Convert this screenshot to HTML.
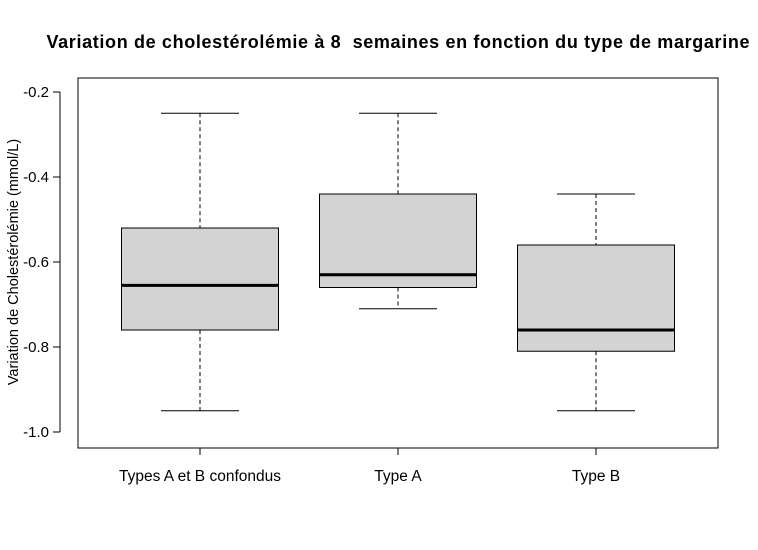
<!DOCTYPE html>
<html><head><meta charset="utf-8"><style>
body{margin:0;background:#fff}
text{font-family:"Liberation Sans",Arial,sans-serif}
</style></head><body>
<svg id="c" width="758" height="545" viewBox="0 0 758 545" xmlns="http://www.w3.org/2000/svg">
<rect width="758" height="545" fill="#fff"/>
<text x="398" y="48" text-anchor="middle" font-size="18" font-weight="bold" style="white-space:pre" xml:space="preserve" textLength="703">Variation de cholestérolémie à 8  semaines en fonction du type de margarine</text>
<text transform="translate(18,262) rotate(-90)" text-anchor="middle" font-size="14.5">Variation de Cholestérolémie (mmol/L)</text>
<rect x="78" y="78" width="640" height="370" fill="none" stroke="#000"/>
<g id="g"></g>
</svg>
<script>
const categories=["Types A et B confondus","Type A","Type B"];
const whiskerHigh=[-0.25,-0.25,-0.44];
const q3=[-0.52,-0.44,-0.56];
const medians=[-0.655,-0.63,-0.76];
const q1=[-0.76,-0.66,-0.81];
const whiskerLow=[-0.95,-0.71,-0.95];
const yTicks=[-0.2,-0.4,-0.6,-0.8,-1.0];
const yTickLabels=["-0.2","-0.4","-0.6","-0.8","-1.0"];
const NS="http://www.w3.org/2000/svg";
const g=document.getElementById('g');
const y=v=>92+(-0.2-v)*425;
const x=i=>200+i*198;
function mk(t,a){const e=document.createElementNS(NS,t);for(const k in a)e.setAttribute(k,a[k]);g.appendChild(e);return e;}
let ax=mk('line',{x1:60,x2:60,y1:y(-0.2),y2:y(-1.0),stroke:'#000'});


yTicks.forEach((v,i)=>{
 let t=mk('line',{x1:53,x2:60,y1:y(v),y2:y(v),stroke:'#000'});
 
 
 let l=mk('text',{x:49,y:y(v)+5,'text-anchor':'end','font-size':15});
 l.textContent=yTickLabels[i];
 
 
});
let xa=mk('line',{x1:x(0),x2:x(2),y1:448,y2:448,stroke:'#000'});


categories.forEach((c,i)=>{
 const cx=x(i),bw=78.5,cw=39;
 let t=mk('line',{x1:cx,x2:cx,y1:448,y2:455,stroke:'#000'});
 
 
 let l=mk('text',{x:cx,y:481,'text-anchor':'middle','font-size':15.5});
 l.textContent=c;
 
 
 let w1=mk('line',{x1:cx,x2:cx,y1:y(whiskerHigh[i]),y2:y(q3[i]),stroke:'#000','stroke-dasharray':'4,3'});
 
 
 let w2=mk('line',{x1:cx,x2:cx,y1:y(q1[i]),y2:y(whiskerLow[i]),stroke:'#000','stroke-dasharray':'4,3'});
 
 
 let c1=mk('line',{x1:cx-cw,x2:cx+cw,y1:y(whiskerHigh[i]),y2:y(whiskerHigh[i]),stroke:'#000'});
 
 
 let c2=mk('line',{x1:cx-cw,x2:cx+cw,y1:y(whiskerLow[i]),y2:y(whiskerLow[i]),stroke:'#000'});
 
 
 let b=mk('rect',{x:cx-bw,y:y(q3[i]),width:2*bw,height:y(q1[i])-y(q3[i]),fill:'#d3d3d3',stroke:'#000'});
 
 
 let m=mk('line',{x1:cx-bw,x2:cx+bw,y1:y(medians[i]),y2:y(medians[i]),stroke:'#000','stroke-width':3});
 
 
});
</script>
</body></html>
